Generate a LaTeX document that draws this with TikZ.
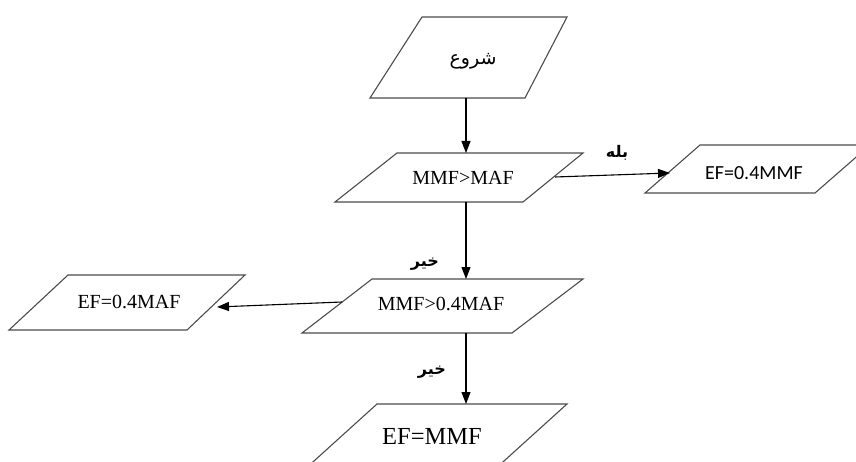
\documentclass[tikz,border=0pt]{standalone}
\usepackage{fontspec}
\setmainfont{Liberation Serif}
\newfontfamily\calib{Carlito}
\newfontfamily\arabicfont[Script=Arabic]{DejaVu Sans}
\TeXXeTstate=1
\usetikzlibrary{arrows.meta}
\begin{document}
\begin{tikzpicture}[x=1pt,y=-1pt,
  box/.style={draw=black!70,line width=1.1pt},
  arr/.style={draw=black,line width=1.1pt,-{Triangle[length=12pt,width=9pt]}},
  txt/.style={inner sep=0pt,font=\fontsize{20}{22}\selectfont},
  lab/.style={inner sep=0pt,font=\arabicfont\bfseries\fontsize{16}{18}\selectfont}]
\useasboundingbox (0,0) rectangle (856,462);
\clip (0,0) rectangle (856,462);
% boxes
\draw[box] (422,17) -- (567,17) -- (525,98) -- (370,98) -- cycle;
\draw[box] (397,153) -- (583,153) -- (523,202) -- (335,202) -- cycle;
\draw[box] (700,145) -- (870,145) -- (815,193) -- (645,193) -- cycle;
\draw[box] (372,279) -- (583,279) -- (512,333) -- (302,333) -- cycle;
\draw[box] (68,275) -- (245,275) -- (187,330) -- (9,330) -- cycle;
\draw[box] (293,480) -- (377,404) -- (567,404) -- (483,480);
% texts
\node[txt,font=\arabicfont\fontsize{19}{22}\selectfont] (start) at (473,61) {\beginR شروع\endR};
\node[txt] (d1) at (463,178) {MMF>MAF};
\node[txt,font=\calib\fontsize{20}{22}\selectfont] (r1) at (754,173) {EF=0.4MMF};
\node[txt] (d2) at (441,304) {MMF>0.4MAF};
\node[txt] (l1) at (129,302) {EF=0.4MAF};
\node[txt,font=\fontsize{24.5}{26}\selectfont] (e1) at (432,436) {EF=MMF};
% connector end points
\coordinate (sB) at (466,98);
\coordinate (d1T) at (466,153);
\coordinate (d1R) at (555,177);
\coordinate (r1L) at (670,173);
\coordinate (d1B) at (466,202);
\coordinate (d2T) at (466,279);
\coordinate (d2L) at (342,302);
\coordinate (l1R) at (217,307);
\coordinate (d2B) at (466,333);
\coordinate (e1T) at (466,404);
% connectors
\draw[arr] (sB) -- (d1T);
\draw[arr] (d1R) -- (r1L);
\draw[arr] (d1B) -- (d2T);
\draw[arr] (d2L) -- (l1R);
\draw[arr] (d2B) -- (e1T);
% labels
\node[lab] (yes) at (617,153) {\beginR بله\endR};
\node[lab] (no1) at (425,264) {\beginR خیر\endR};
\node[lab] (no2) at (432,372) {\beginR خیر\endR};
\end{tikzpicture}
\end{document}
